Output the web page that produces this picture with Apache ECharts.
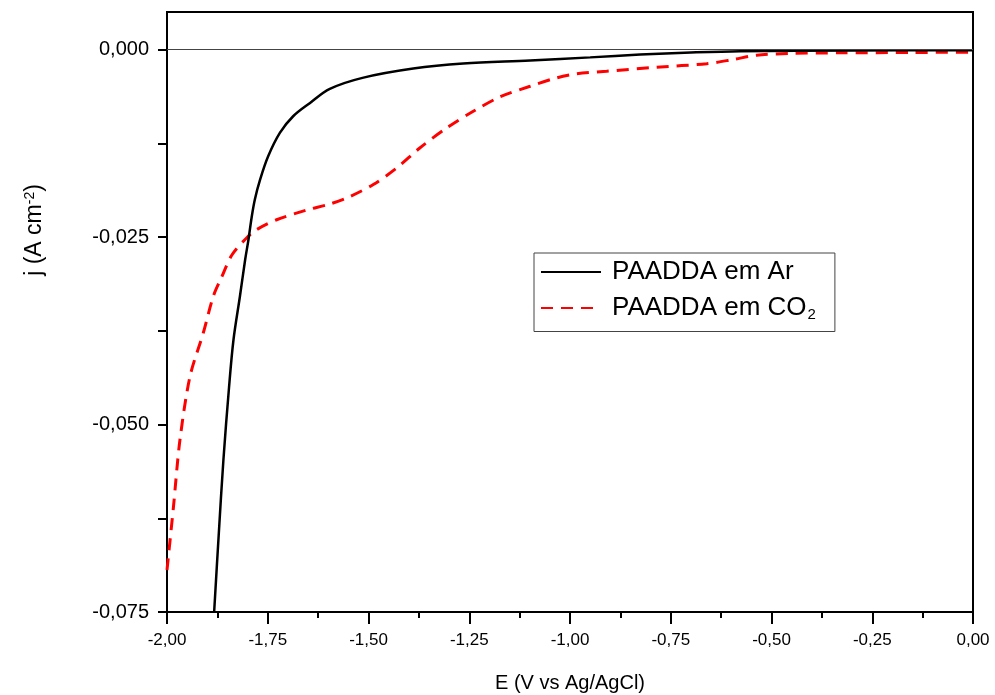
<!DOCTYPE html>
<html>
<head>
<meta charset="utf-8">
<script src="https://cdn.jsdelivr.net/npm/echarts@6/dist/echarts.min.js"></script>
<style>
  html, body { margin: 0; padding: 0; background: #fff; }
  #chart { width: 995px; height: 695px; }
</style>
</head>
<body>
<div id="chart"></div>
<script>
// PAADDA em Ar
const arE = [-1.883, -1.872, -1.860, -1.846, -1.835, -1.819, -1.806, -1.798, -1.790, -1.782, -1.769, -1.749, -1.720, -1.687, -1.645, -1.596, -1.515, -1.389, -1.265, -1.099, -0.950, -0.826, -0.700, -0.578, -0.300, 0.000]
const arJ = [-0.0750, -0.0650, -0.0547, -0.0450, -0.0387, -0.0329, -0.0280, -0.0254, -0.0224, -0.0200, -0.01736, -0.01424, -0.01112, -0.0089, -0.00712, -0.00525, -0.00378, -0.00254, -0.00187, -0.00147, -0.00105, -0.00067, -0.0004, -0.00022, -0.00012, -0.0001]

// PAADDA em CO2
const co2E = [-2.000, -1.984, -1.968, -1.943, -1.910, -1.885, -1.864, -1.839, -1.802, -1.777, -1.728, -1.653, -1.596, -1.546, -1.488, -1.430, -1.372, -1.306, -1.240, -1.174, -1.099, -1.033, -0.984, -0.909, -0.785, -0.661, -0.596, -0.537, -0.454, -0.330, -0.150, 0.000]
const co2J = [-0.0694, -0.0610, -0.0521, -0.0436, -0.0378, -0.0329, -0.0303, -0.0274, -0.0251, -0.0240, -0.0227, -0.0214, -0.0206, -0.0196, -0.0180, -0.0158, -0.0131, -0.01046, -0.00824, -0.00632, -0.0049, -0.00378, -0.00325, -0.0029, -0.00236, -0.0019, -0.00134, -0.00076, -0.00053, -0.00044, -0.0004, -0.00035]

const yLabels = [-0.075, -0.05, -0.025, 0]
const yTicks = [-0.075, -0.0625, -0.05, -0.0375, -0.025, -0.0125, 0]

const font = 'Liberation Sans, Arial, sans-serif'
const comma = (v, d) => v.toFixed(d).replace('.', ',')

const chart = echarts.init(document.getElementById('chart'))

chart.setOption({
  animation: false,
  backgroundColor: '#fff',
  grid: {
    left: 167, top: 12, right: 22, bottom: 83,
    outerBoundsMode: 'none',
    containLabel: false,
    show: true, borderColor: '#000', borderWidth: 2
  },
  legend: {
    left: 534,
    top: 253,
    orient: 'vertical',
    borderColor: '#444',
    borderWidth: 1,
    borderRadius: 0,
    padding: [6, 19, 9, 6],
    itemWidth: 60,
    itemHeight: 14,
    itemGap: 10,
    itemStyle: { opacity: 0 },
    textStyle: {
      fontFamily: font,
      fontSize: 26,
      color: '#000',
      padding: [0, 0, 0, 6],
      rich: {
        sub: { fontFamily: font, fontSize: 15, color: '#000', verticalAlign: 'bottom', padding: [14, 0, 0, 1] }
      }
    },
    formatter: (name) => name.replace('CO2', 'CO{sub|2}'),
    data: ['PAADDA em Ar', 'PAADDA em CO2']
  },
  xAxis: {
    type: 'value',
    min: -2,
    max: 0,
    interval: 0.25,
    name: 'E (V vs Ag/AgCl)',
    nameLocation: 'middle',
    nameGap: 61,
    nameTextStyle: { fontFamily: font, fontSize: 20, color: '#000' },
    splitLine: { show: false },
    axisLine: { show: true, onZero: false, lineStyle: { color: '#000', width: 2 } },
    axisTick: { length: 12, lineStyle: { color: '#000', width: 2 } },
    minorTick: { show: true, splitNumber: 2, length: 6, lineStyle: { color: '#000', width: 2 } },
    axisLabel: {
      margin: 20,
      fontFamily: font,
      fontSize: 17,
      color: '#000',
      formatter: (v) => comma(v, 2)
    }
  },
  yAxis: {
    type: 'value',
    min: -0.075,
    max: 0.005,
    name: 'j (A cm{sup|-2})',
    nameLocation: 'middle',
    nameGap: 120,
    nameRotate: 90,
    nameTextStyle: {
      fontFamily: font, fontSize: 23, color: '#000',
      padding: [0, 0, 0, 164],
      rich: { sup: { fontFamily: font, fontSize: 14, color: '#000', verticalAlign: 'top', padding: [0, 0, 10, 0] } }
    },
    splitLine: { show: false },
    axisLine: { show: true, onZero: false, lineStyle: { color: '#000', width: 2 } },
    axisTick: { customValues: yTicks, length: 9, lineStyle: { color: '#000', width: 2 } },
    axisLabel: {
      customValues: yLabels,
      margin: 18,
      fontFamily: font,
      fontSize: 20,
      color: '#000',
      formatter: (v) => comma(v, 3)
    }
  },
  series: [
    {
      name: 'PAADDA em Ar',
      type: 'line',
      symbol: 'none',
      smooth: 0.35,
      lineStyle: { color: '#000', width: 2.5 },
      itemStyle: { color: '#000' },
      data: arE.map((e, i) => [e, arJ[i]]),
      markLine: {
        silent: true,
        symbol: 'none',
        label: { show: false },
        lineStyle: { color: '#444', width: 1, type: 'solid' },
        data: [{ yAxis: 0 }]
      },
      z: 3
    },
    {
      name: 'PAADDA em CO2',
      type: 'line',
      symbol: 'none',
      smooth: 0.3,
      lineStyle: { color: '#ff0000', width: 3, type: [12, 8] },
      itemStyle: { color: '#ff0000' },
      data: co2E.map((e, i) => [e, co2J[i]]),
      z: 2
    }
  ]
})
</script>
</body>
</html>
